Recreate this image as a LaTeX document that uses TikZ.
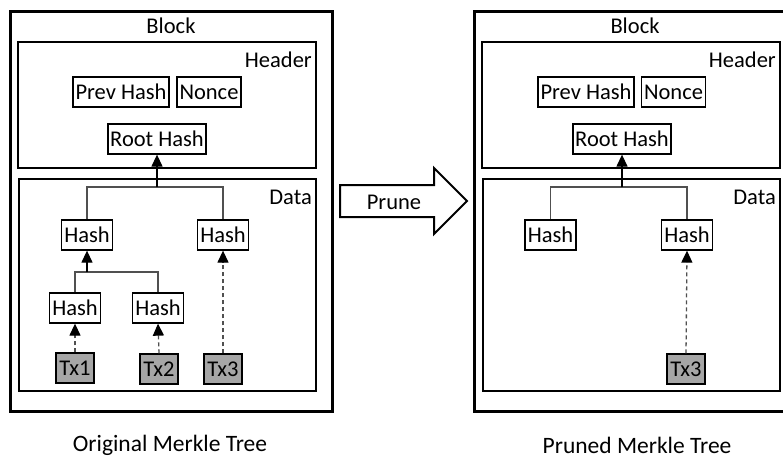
\documentclass[tikz,border=0pt]{standalone}
\usepackage{fontspec}
\setmainfont{Carlito}
\usetikzlibrary{arrows.meta}
\definecolor{txgray}{RGB}{166,166,166}
\definecolor{linegray}{RGB}{80,80,80}
\tikzset{
  blockframe/.style={draw=black, line width=3pt},
  partframe/.style={draw=black, line width=2pt},
  box/.style={draw=black, line width=1.3pt, inner sep=0pt, minimum height=30pt, font=\fontsize{22.5}{25}\selectfont},
  hashbox/.style={box, minimum width=51pt},
  txbox/.style={box, fill=txgray, minimum width=38pt},
  lbl/.style={inner sep=0pt, font=\fontsize{22.5}{25}\selectfont},
  treeline/.style={draw=linegray, line width=1.3pt},
  uparrow/.style={draw=black, line width=1.3pt, -{Triangle[width=11pt,length=12pt]}},
  dasharrow/.style={draw=linegray, line width=1.3pt, dash pattern=on 4pt off 3pt, -{Triangle[width=11pt,length=12pt,fill=black,color=black]}},
  prunearrow/.style={draw=black, line width=2pt, fill=white},
}
\begin{document}
\begin{tikzpicture}[x=1pt,y=-1pt]
\useasboundingbox (0,0) rectangle (783,458);
\clip (0,0) rectangle (783,458);

% ---------- original block ----------
\draw[blockframe] (10,11) rectangle (332,411);
\node[lbl] (blockA) at (171,26) {Block};
\draw[partframe] (18,42) rectangle (316,168);
\node[lbl, anchor=east] (headerA) at (312,60) {Header};
\node[box, minimum width=96pt] (prevA) at (121,92) {Prev Hash};
\node[box, minimum width=64pt] (nonceA) at (209,92) {Nonce};
\node[box, minimum width=98pt] (rootA) at (157,139) {Root Hash};
\draw[partframe] (19,179) rectangle (316,391);
\node[lbl, anchor=east] (dataA) at (312,197) {Data};

\node[hashbox] (hlA) at (87,235) {Hash};
\node[hashbox] (hrA) at (223,235) {Hash};
\node[hashbox] (hllA) at (75,308) {Hash};
\node[hashbox] (hlrA) at (158,308) {Hash};
\node[txbox] (tx1A) at (75,368) {Tx1};
\node[txbox] (tx2A) at (159,369) {Tx2};
\node[txbox] (tx3A) at (223,369) {Tx3};

\coordinate (jtopA) at (157,187);
\coordinate (jlowA) at (87,272);
\draw[treeline] (hlA.north) |- (jtopA) -| (hrA.north);
\draw[uparrow] (jtopA) -- (rootA.south);
\draw[treeline] (hllA.north) |- (jlowA) -| (hlrA.north);
\draw[uparrow] (jlowA) -- (hlA.south);
\draw[dasharrow] (tx1A.north) -- (hllA.south);
\draw[dasharrow] (tx2A.north) -- (hlrA.south);
\draw[dasharrow] (tx3A.north) -- (hrA.south);

% ---------- prune arrow ----------
\draw[prunearrow] (340,185) -- (434,185) -- (434,168) -- (467,201)
  -- (434,234) -- (434,217) -- (340,217) -- cycle;
\node[lbl] (prune) at (394,202) {Prune};

% ---------- pruned block ----------
\draw[blockframe] (474,11) rectangle (796,411);
\node[lbl] (blockB) at (635,26) {Block};
\draw[partframe] (482,42) rectangle (780,168);
\node[lbl, anchor=east] (headerB) at (776,60) {Header};
\node[box, minimum width=96pt] (prevB) at (586,92) {Prev Hash};
\node[box, minimum width=64pt] (nonceB) at (673.5,92) {Nonce};
\node[box, minimum width=98pt] (rootB) at (622,139) {Root Hash};
\draw[partframe] (483,179) rectangle (780,391);
\node[lbl, anchor=east] (dataB) at (776,197) {Data};

\node[hashbox] (hlB) at (550.5,235) {Hash};
\node[hashbox] (hrB) at (687,235) {Hash};
\node[txbox] (tx3B) at (686,369) {Tx3};

\coordinate (jtopB) at (622,187);
\draw[treeline] (hlB.north) |- (jtopB) -| (hrB.north);
\draw[uparrow] (jtopB) -- (rootB.south);
\draw[dasharrow] (tx3B.north) -- (hrB.south);

% ---------- captions ----------
\node[lbl, font=\fontsize{23.5}{26}\selectfont] (capA) at (170,445) {Original Merkle Tree};
\node[lbl, font=\fontsize{23.5}{26}\selectfont] (capB) at (637,445) {Pruned Merkle Tree};
\end{tikzpicture}
\end{document}
